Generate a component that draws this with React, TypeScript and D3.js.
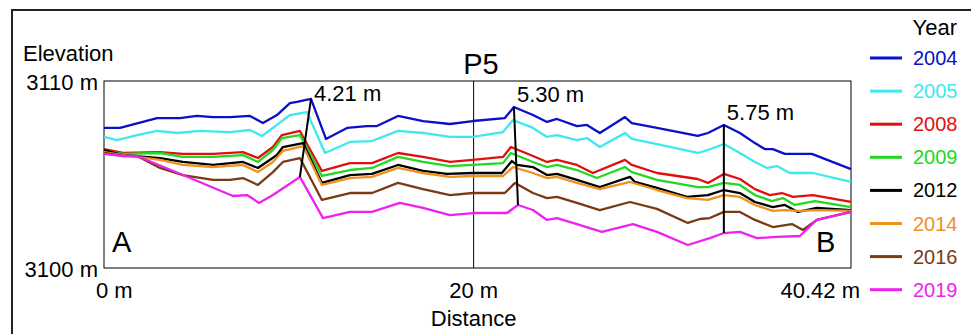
import React from 'react';
import * as d3 from 'd3';

const width = 971;
const height = 334;
const margin = { top: 81, right: 120, bottom: 66, left: 104 };
const font = 'Liberation Sans, Arial, sans-serif';

type Pt = [number, number];

const years = ['2004', '2005', '2008', '2009', '2012', '2014', '2016', '2019'];
const colors = ['#0a10c8', '#3ee8f0', '#e01010', '#22d822', '#000000', '#f0901e', '#7a3a12', '#ee22ee'];

// [distance (m), elevation (m)]
const s2004: Pt[] = [
  [0, 3107.49], [0.87, 3107.49], [2.87, 3108.02], [4.11, 3108.02], [5.03, 3108.13], [5.9, 3108.07],
  [6.82, 3108.07], [7.9, 3108.13], [8.6, 3107.75], [9.36, 3108.18], [10.06, 3108.82], [10.44, 3108.88],
  [11.2, 3109.04], [12.01, 3106.9], [13.15, 3107.49], [14.23, 3107.59], [14.77, 3107.59], [15.91, 3108.13],
  [17.26, 3107.86], [18.72, 3107.7], [19.96, 3107.86], [21.69, 3108.02], [22.18, 3108.61], [23.21, 3108.18],
  [23.97, 3107.81], [24.51, 3107.97], [25.59, 3107.59], [26.13, 3107.65], [26.83, 3107.22], [28.19, 3108.07],
  [28.56, 3107.75], [29.92, 3107.49], [32.13, 3107.06], [32.68, 3107.22], [33.54, 3107.65], [34.41, 3107.22],
  [35.22, 3106.68], [35.76, 3106.36], [36.19, 3106.36], [36.84, 3106.1], [38.3, 3106.1], [40.42, 3105.29],
];
const s2005: Pt[] = [
  [0, 3107.01], [0.7, 3106.84], [1.79, 3107.11], [2.87, 3107.33], [3.95, 3107.22], [5.19, 3107.33],
  [6.82, 3107.27], [7.9, 3107.38], [8.55, 3107.06], [9.36, 3107.65], [10.06, 3108.18], [10.98, 3108.34],
  [11.96, 3106.15], [13.31, 3106.74], [14.5, 3106.79], [15.91, 3107.33], [17.26, 3107.22], [18.72, 3107.01],
  [19.96, 3107.01], [21.59, 3107.27], [22.13, 3107.91], [23.21, 3107.49], [23.97, 3107.01], [24.51, 3107.11],
  [25.59, 3106.84], [26.13, 3106.95], [26.83, 3106.47], [28.19, 3107.22], [28.56, 3106.9], [29.92, 3106.63],
  [32.13, 3106.15], [32.68, 3106.31], [33.54, 3106.63], [34.41, 3106.15], [35.22, 3105.67], [35.87, 3105.35],
  [36.41, 3105.45], [37.11, 3105.08], [38.36, 3105.08], [40.42, 3104.6],
];
const s2008: Pt[] = [
  [0, 3106.36], [1.03, 3106.15], [3.03, 3106.2], [4.27, 3106.1], [5.9, 3106.1], [7.52, 3106.2],
  [8.33, 3105.88], [9.14, 3106.47], [9.63, 3107.11], [10.6, 3107.33], [11.79, 3105.19], [13.31, 3105.61],
  [14.5, 3105.61], [15.91, 3106.15], [17.26, 3105.94], [18.72, 3105.67], [19.96, 3105.78], [21.59, 3105.94],
  [22.02, 3106.47], [23.21, 3105.99], [23.97, 3105.67], [24.51, 3105.78], [25.59, 3105.51], [26.45, 3105.08],
  [28.19, 3105.78], [28.56, 3105.51], [29.92, 3105.08], [32.13, 3104.76], [32.68, 3104.55], [33.54, 3105.03],
  [34.41, 3104.76], [35.22, 3104.22], [36.03, 3103.9], [36.68, 3104.01], [37.28, 3103.8], [38.36, 3103.9],
  [40.42, 3103.53],
];
const s2009: Pt[] = [
  [0, 3106.26], [1.03, 3106.1], [3.03, 3106.15], [4.27, 3105.94], [5.9, 3105.94], [7.52, 3106.04],
  [8.33, 3105.67], [9.14, 3106.31], [9.63, 3106.95], [10.6, 3107.11], [11.79, 3104.92], [13.31, 3105.24],
  [14.5, 3105.35], [15.91, 3105.94], [17.26, 3105.67], [18.72, 3105.45], [19.96, 3105.51], [21.59, 3105.61],
  [22.02, 3106.15], [23.21, 3105.67], [23.97, 3105.4], [24.51, 3105.51], [25.59, 3105.24], [26.67, 3104.81],
  [28.19, 3105.4], [28.56, 3105.13], [29.92, 3104.71], [32.13, 3104.33], [32.68, 3104.33], [33.54, 3104.55],
  [34.41, 3104.44], [35.22, 3103.9], [36.14, 3103.58], [36.73, 3103.74], [37.38, 3103.37], [38.47, 3103.58],
  [40.42, 3103.26],
];
const s2012: Pt[] = [
  [0, 3106.31], [1.03, 3106.04], [3.03, 3105.88], [4.27, 3105.67], [5.9, 3105.51], [7.52, 3105.67],
  [8.33, 3105.35], [9.36, 3106.04], [9.68, 3106.47], [10.77, 3106.68], [11.79, 3104.55], [13.31, 3104.97],
  [14.5, 3105.03], [15.91, 3105.51], [17.26, 3105.19], [18.56, 3105.03], [19.96, 3105.08], [21.53, 3105.08],
  [22.07, 3105.72], [22.34, 3105.51], [23.21, 3105.4], [23.97, 3104.97], [24.51, 3105.03], [25.59, 3104.71],
  [26.83, 3104.33], [28.46, 3104.87], [28.73, 3104.6], [29.92, 3104.28], [31.54, 3103.8], [32.68, 3103.9],
  [33.54, 3104.17], [34.41, 3104.01], [35.22, 3103.53], [36.19, 3103.26], [36.84, 3103.37], [37.55, 3103.0],
  [38.57, 3103.21], [40.42, 3103.1],
];
const s2014: Pt[] = [
  [0, 3106.2], [1.03, 3106.04], [3.03, 3105.78], [4.27, 3105.51], [5.9, 3105.4], [7.52, 3105.51],
  [8.33, 3105.13], [9.14, 3105.67], [9.68, 3106.26], [10.77, 3106.52], [11.79, 3104.44], [13.31, 3104.81],
  [14.5, 3104.87], [15.91, 3105.35], [17.26, 3105.08], [18.72, 3104.87], [19.96, 3104.92], [21.59, 3104.92],
  [22.13, 3105.4], [23.21, 3105.08], [23.97, 3104.81], [24.51, 3104.87], [25.59, 3104.55], [26.83, 3104.22],
  [28.46, 3104.6], [29.92, 3104.17], [31.54, 3103.74], [32.68, 3103.64], [33.54, 3103.9], [34.41, 3103.8],
  [35.22, 3103.37], [36.19, 3103.05], [36.84, 3103.1], [37.65, 3103.05], [38.57, 3103.1], [40.42, 3103.05],
];
const s2016: Pt[] = [
  [0, 3106.15], [1.03, 3105.99], [1.79, 3105.99], [3.03, 3105.35], [4.27, 3104.97], [5.9, 3104.71],
  [6.82, 3104.71], [7.52, 3104.81], [8.33, 3104.44], [9.14, 3105.13], [9.68, 3105.67], [10.6, 3105.88],
  [11.79, 3103.64], [13.31, 3104.01], [14.5, 3104.01], [15.91, 3104.55], [17.26, 3104.22], [18.72, 3103.9],
  [19.96, 3104.01], [21.69, 3104.01], [22.24, 3104.55], [23.21, 3104.01], [23.97, 3103.74], [24.51, 3103.8],
  [25.59, 3103.48], [26.83, 3103.1], [28.46, 3103.53], [29.92, 3103.16], [31.59, 3102.41], [32.24, 3102.62],
  [32.78, 3102.67], [33.54, 3103.0], [34.41, 3103.0], [35.22, 3102.57], [36.19, 3102.19], [37.22, 3102.35],
  [37.82, 3102.03], [38.57, 3102.57], [40.42, 3103.0],
];
const s2019: Pt[] = [
  [0, 3106.1], [1.03, 3105.99], [1.79, 3105.99], [4.27, 3104.97], [6.98, 3103.85], [7.74, 3103.9],
  [8.39, 3103.48], [9.14, 3103.9], [10.6, 3104.87], [11.85, 3102.67], [13.31, 3103.0], [14.5, 3103.0],
  [16.01, 3103.48], [17.26, 3103.21], [18.72, 3102.83], [19.96, 3102.94], [21.8, 3102.94], [22.4, 3103.37],
  [23.21, 3103.1], [23.97, 3102.57], [24.51, 3102.67], [25.59, 3102.35], [26.94, 3101.93], [28.62, 3102.35],
  [29.92, 3101.93], [31.59, 3101.23], [32.78, 3101.6], [33.54, 3101.87], [34.41, 3101.93], [35.33, 3101.6],
  [36.41, 3101.66], [37.65, 3101.71], [38.57, 3102.57], [40.42, 3103.0],
];
const series = [s2004, s2005, s2008, s2009, s2012, s2014, s2016, s2019];

const xTicks = [0, 20, 40.42];
const xTickLabels = ['0 m', '20 m', '40.42 m'];
const yTicks = [3100, 3110];
const yTickLabels = ['3100 m', '3110 m'];

// elevation change markers: distance on the 2004 profile -> distance on the 2019 profile
const stepLabels = ['4.21 m', '5.30 m', '5.75 m'];
const stepTop = [11.2, 22.18, 33.54];
const stepBottom = [10.6, 22.4, 33.54];

const bisect = d3.bisector((d: Pt) => d[0]).left;
function elevAt(s: Pt[], d: number) {
  const i = Math.min(Math.max(bisect(s, d), 1), s.length - 1);
  const a = s[i - 1], b = s[i];
  const t = (d - a[0]) / (b[0] - a[0]);
  return a[1] + (b[1] - a[1]) * Math.max(0, Math.min(1, t));
}

export default function App() {
  const x = d3.scaleLinear().domain([0, 40.42]).range([margin.left, width - margin.right]);
  const y = d3.scaleLinear().domain([3100, 3110]).range([height - margin.bottom, margin.top]);
  const line = d3.line<Pt>().x(d => x(d[0])).y(d => y(d[1]));
  const x0 = x.range()[0], x1 = x.range()[1];
  const yTop = y.range()[1], yBot = y.range()[0];

  return (
    <svg width={width} height={height} style={{ position: 'absolute', left: 0, top: 0, background: '#fff' }}
      fontFamily={font}>
      <rect x={12} y={10} width={980} height={340} fill="#fff" stroke="#222" strokeWidth={2} />
      <rect x={x0} y={yTop} width={x1 - x0} height={yBot - yTop} fill="none" stroke="#000" strokeWidth={1} />
      <line x1={x(20)} x2={x(20)} y1={yTop} y2={yBot} stroke="#000" strokeWidth={1} />

      {series.map((s, i) => (
        <path key={years[i]} d={line(s) || ''} fill="none" stroke={colors[i]} strokeWidth={2.3}
          strokeLinejoin="round" />
      ))}

      {stepLabels.map((lab, i) => {
        const tx = x(stepTop[i]), ty = y(elevAt(s2004, stepTop[i]));
        const bx = x(stepBottom[i]), by = y(elevAt(s2019, stepBottom[i]));
        return (
          <g key={lab}>
            <line x1={tx} y1={ty} x2={bx} y2={by} stroke="#000" strokeWidth={2} />
            <text x={tx + 3} y={Math.max(ty - 5, yTop + 20)} fontSize={22}>{lab}</text>
          </g>
        );
      })}

      <text x={112} y={252} fontSize={29}>A</text>
      <text x={x1 - 35} y={252} fontSize={29}>B</text>
      <text x={481} y={74} fontSize={29} textAnchor="middle">P5</text>

      <text x={23} y={61} fontSize={22}>Elevation</text>
      {yTicks.map((t, i) => (
        <text key={t} x={x0 - 6} y={y(t) + 9} fontSize={22} textAnchor="end">{yTickLabels[i]}</text>
      ))}
      {xTicks.map((t, i) => (
        <text key={t} x={i === 0 ? x(t) - 8 : i === xTicks.length - 1 ? x(t) + 9 : x(t)} y={298} fontSize={22}
          textAnchor={i === 0 ? 'start' : i === xTicks.length - 1 ? 'end' : 'middle'}>{xTickLabels[i]}</text>
      ))}
      <text x={x(20)} y={326} fontSize={22} textAnchor="middle">Distance</text>

      <text x={957} y={35} fontSize={22} textAnchor="end">Year</text>
      {years.map((yr, i) => {
        const ly = 58 + i * 33.1;
        return (
          <g key={yr}>
            <line x1={870} x2={902} y1={ly} y2={ly} stroke={colors[i]} strokeWidth={3} />
            <text x={913} y={ly + 7} fontSize={20} fill={colors[i]}>{yr}</text>
          </g>
        );
      })}
    </svg>
  );
}
